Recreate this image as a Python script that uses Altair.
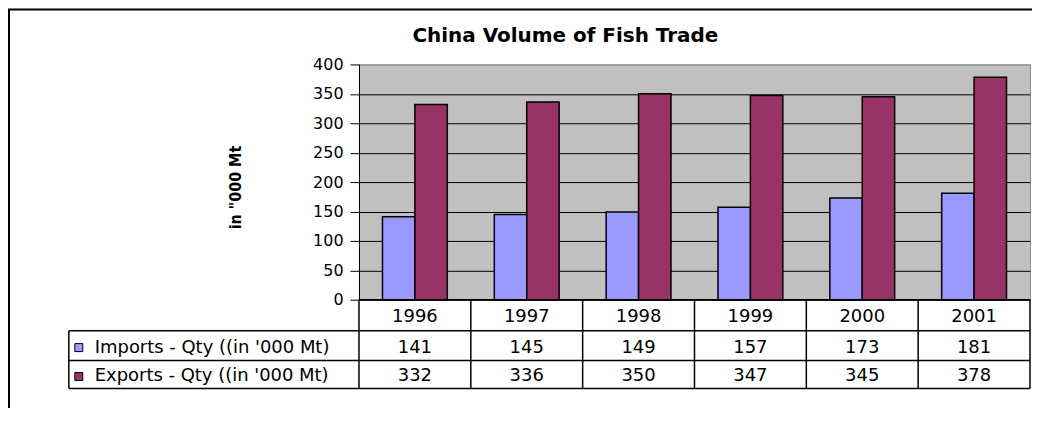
import altair as alt
import pandas as pd

# ---- data ----
years = ["1996", "1997", "1998", "1999", "2000", "2001"]
imports_qty = [141, 145, 149, 157, 173, 181]
exports_qty = [332, 336, 350, 347, 345, 378]
series_names = ["Imports - Qty ((in '000 Mt)", "Exports - Qty ((in '000 Mt)"]
series_colors = ["#9999FF", "#993366"]
y_ticks = [0, 50, 100, 150, 200, 250, 300, 350, 400]
chart_title = "China Volume of Fish Trade"
y_title = 'in "000 Mt'

rows = []
for i, yr in enumerate(years):
    rows.append({"year": yr, "series": series_names[0], "value": imports_qty[i]})
    rows.append({"year": yr, "series": series_names[1], "value": exports_qty[i]})
df = pd.DataFrame(rows)
df_years = pd.DataFrame({"year": years})
one = alt.Data(values=[{}])

W, H = 673, 236
FONT = "DejaVu Sans"
LINE = 1.5

x_enc = alt.X("year:N", sort=years,
              scale=alt.Scale(domain=years, paddingInner=0, paddingOuter=0),
              axis=None)

frame = alt.Chart(one).mark_rect(fillOpacity=0, stroke="black", strokeWidth=2).encode(
    x=alt.value(-351), x2=alt.value(760), y=alt.value(-55), y2=alt.value(450))

bars = alt.Chart(df).mark_bar(stroke="black", strokeWidth=LINE).encode(
    x=x_enc,
    xOffset=alt.XOffset("series:N", sort=series_names,
                        scale=alt.Scale(domain=series_names, paddingInner=0, paddingOuter=0.7256)),
    y=alt.Y("value:Q", scale=alt.Scale(domain=[0, 400], nice=False),
            axis=alt.Axis(values=y_ticks, title=y_title,
                          titleX=-124, titleY=123, titleAngle=270,
                          titleAlign="center", titleBaseline="middle",
                          titleFont="DejaVu Sans Condensed, Liberation Sans Narrow, DejaVu Sans",
                          titleFontSize=16, titleFontWeight="bold", titleColor="black",
                          labelFont=FONT, labelFontSize=16, labelColor="black",
                          labelPadding=7, tickSize=9, tickColor="black", tickWidth=1,
                          domainColor="black", domainWidth=1,
                          grid=True, gridWidth=1,
                          gridColor={"condition": {"test": "datum.value === 400", "value": "#8c8c8c"},
                                     "value": "black"})),
    color=alt.Color("series:N", scale=alt.Scale(domain=series_names, range=series_colors), legend=None),
)

# table lines
vlines = alt.Chart(df_years).mark_rule(color="black", strokeWidth=LINE).encode(
    x=alt.X("year:N", sort=years, bandPosition=0), y=alt.value(H), y2=alt.value(325))
right_line = alt.Chart(one).mark_rule(color="black", strokeWidth=LINE).encode(
    x=alt.value(W), y=alt.value(H), y2=alt.value(325))
left_line = alt.Chart(one).mark_rule(color="black", strokeWidth=LINE).encode(
    x=alt.value(-291), y=alt.value(267), y2=alt.value(325))
hlines = [
    alt.Chart(one).mark_rule(color="black", strokeWidth=LINE).encode(
        x=alt.value(-291), x2=alt.value(W), y=alt.value(yy))
    for yy in (267, 297, 325)
]
bottom_line = alt.Chart(one).mark_rule(color="black", strokeWidth=LINE).encode(
    x=alt.value(0), x2=alt.value(W), y=alt.value(H))

# table text
year_text = alt.Chart(df_years).mark_text(font=FONT, fontSize=18, color="black",
                                          baseline="alphabetic").encode(
    x=alt.X("year:N", sort=years), y=alt.value(258), text="year:N")

val_layers = []
label_layers = []
for i, (s, c, yb) in enumerate(zip(series_names, series_colors, (289, 318))):
    val_layers.append(
        alt.Chart(df).transform_filter(alt.datum.series == s).mark_text(
            font=FONT, fontSize=18, color="black", baseline="alphabetic").encode(
            x=alt.X("year:N", sort=years), y=alt.value(yb), text="value:Q"))
    lab_df = pd.DataFrame({"label": [s], "color": [c]})
    label_layers.append(
        alt.Chart(lab_df).mark_square(size=64, stroke="black", strokeWidth=1, opacity=1).encode(
            x=alt.value(-281), y=alt.value(yb - 5),
            fill=alt.Fill("color:N", scale=None)))
    label_layers.append(
        alt.Chart(lab_df).mark_text(font=FONT, fontSize=18, color="black",
                                    align="left", baseline="alphabetic").encode(
            x=alt.value(-265), y=alt.value(yb), text="label:N"))

title_df = pd.DataFrame({"t": [chart_title]})
title_text = alt.Chart(title_df).mark_text(font=FONT, fontSize=20, fontWeight="bold",
                                           color="black", align="center",
                                           baseline="alphabetic").encode(
    x=alt.value(207), y=alt.value(-22), text="t:N")

chart = alt.layer(
    frame, bars, bottom_line, vlines, right_line, left_line, *hlines,
    year_text, *val_layers, *label_layers, title_text
).properties(
    width=W, height=H,
    autosize=alt.AutoSizeParams(type="none"),
    padding={"left": 352, "top": 56, "right": 2, "bottom": 108},
    background="white",
).configure_view(fill="#C0C0C0", stroke="#8c8c8c", strokeWidth=1)

chart.save("out.html", embed_options={"renderer": "svg", "actions": False})
